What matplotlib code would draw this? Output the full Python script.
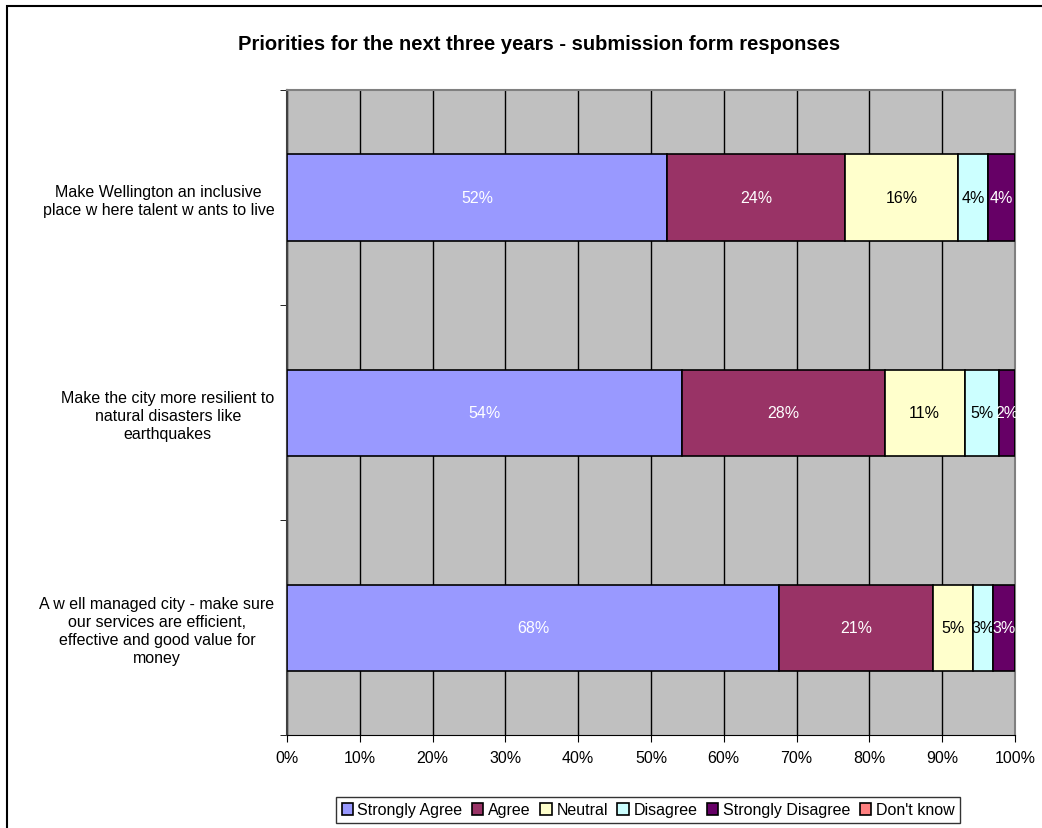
import matplotlib.pyplot as plt
from matplotlib.patches import Rectangle
import numpy as np

plt.rcParams['font.family'] = ['Liberation Sans', 'DejaVu Sans']

# Statements, top to bottom
statements = [
    "Make Wellington an inclusive\nplace w here talent w ants to live",
    "Make the city more resilient to\nnatural disasters like\nearthquakes",
    "A w ell managed city - make sure\nour services are efficient,\neffective and good value for\nmoney",
]
responses = ["Strongly Agree", "Agree", "Neutral", "Disagree",
             "Strongly Disagree", "Don't know"]

# Share of responses (%) for each statement
strongly_agree = [52.2, 54.2, 67.6]
agree = [24.4, 27.9, 21.2]
neutral = [15.6, 11.0, 5.4]
disagree = [4.1, 4.7, 2.8]
strongly_disagree = [3.7, 2.2, 3.0]
dont_know = [0.0, 0.0, 0.0]

series = [strongly_agree, agree, neutral, disagree, strongly_disagree, dont_know]
colors = ["#9999FF", "#993366", "#FFFFCC", "#CCFFFF", "#660066", "#FF8080"]
label_colors = ["white", "white", "black", "black", "white", "black"]
fs = 11.5

fig = plt.figure(figsize=(10.42, 8.29), dpi=100)
ax = fig.add_axes([287 / 1042, 1 - 736 / 829, 728 / 1042, 645 / 829])
ax.set_facecolor("#C0C0C0")

# outer chart frame
fig.patches.append(Rectangle((7 / 1042, -0.1), 1.2, (829 - 7) / 829 + 0.1,
                             transform=fig.transFigure, fill=False,
                             edgecolor="black", linewidth=1.5, zorder=0))

ypos = np.arange(len(statements))[::-1]
left = np.zeros(len(statements))
for vals, col, tcol, name in zip(series, colors, label_colors, responses):
    vals = np.array(vals)
    ax.barh(ypos, vals, left=left, height=0.4, color=col, edgecolor="black",
            linewidth=1.2, label=name, zorder=3)
    for y, l, v in zip(ypos, left, vals):
        if v > 0:
            ax.text(l + v / 2, y, f"{v:.0f}%", ha="center", va="center",
                    color=tcol, fontsize=fs, zorder=4)
    left += vals

ax.set_xlim(0, 100)
ax.set_ylim(-0.5, 2.5)
ax.set_xticks(np.arange(0, 101, 10))
ax.set_xticklabels([f"{t}%" for t in range(0, 101, 10)], fontsize=fs)
ax.xaxis.grid(True, color="black", linewidth=1, zorder=1)
ax.set_axisbelow(True)

ax.set_yticks(ypos)
ax.set_yticklabels(statements, fontsize=fs, multialignment="center",
                   linespacing=1.25)
ax.tick_params(axis="y", length=0, pad=9)
ax.set_yticks([-0.5, 0.5, 1.5, 2.5], minor=True)
ax.tick_params(axis="y", which="minor", length=5, direction="out", color="black")
ax.tick_params(axis="x", length=5, direction="out", pad=6)

ax.spines["left"].set_color("#404040")
ax.spines["left"].set_linewidth(1.5)
ax.spines["bottom"].set_color("black")
ax.spines["top"].set_color("#808080")
ax.spines["top"].set_linewidth(1.5)
ax.spines["right"].set_color("#808080")
ax.spines["right"].set_linewidth(1.5)

fig.text(539 / 1042, 1 - 45 / 829,
         "Priorities for the next three years - submission form responses",
         ha="center", va="center", fontsize=14.5, fontweight="bold")

leg = fig.legend(loc="center", bbox_to_anchor=(648 / 1042, 1 - 811 / 829),
                 ncol=6, fontsize=fs, frameon=True, fancybox=False,
                 edgecolor="black", handlelength=0.7, handleheight=0.7,
                 handletextpad=0.3, columnspacing=0.6, borderpad=0.35)
leg.get_frame().set_linewidth(1)

fig.savefig("out.png", dpi=100)
